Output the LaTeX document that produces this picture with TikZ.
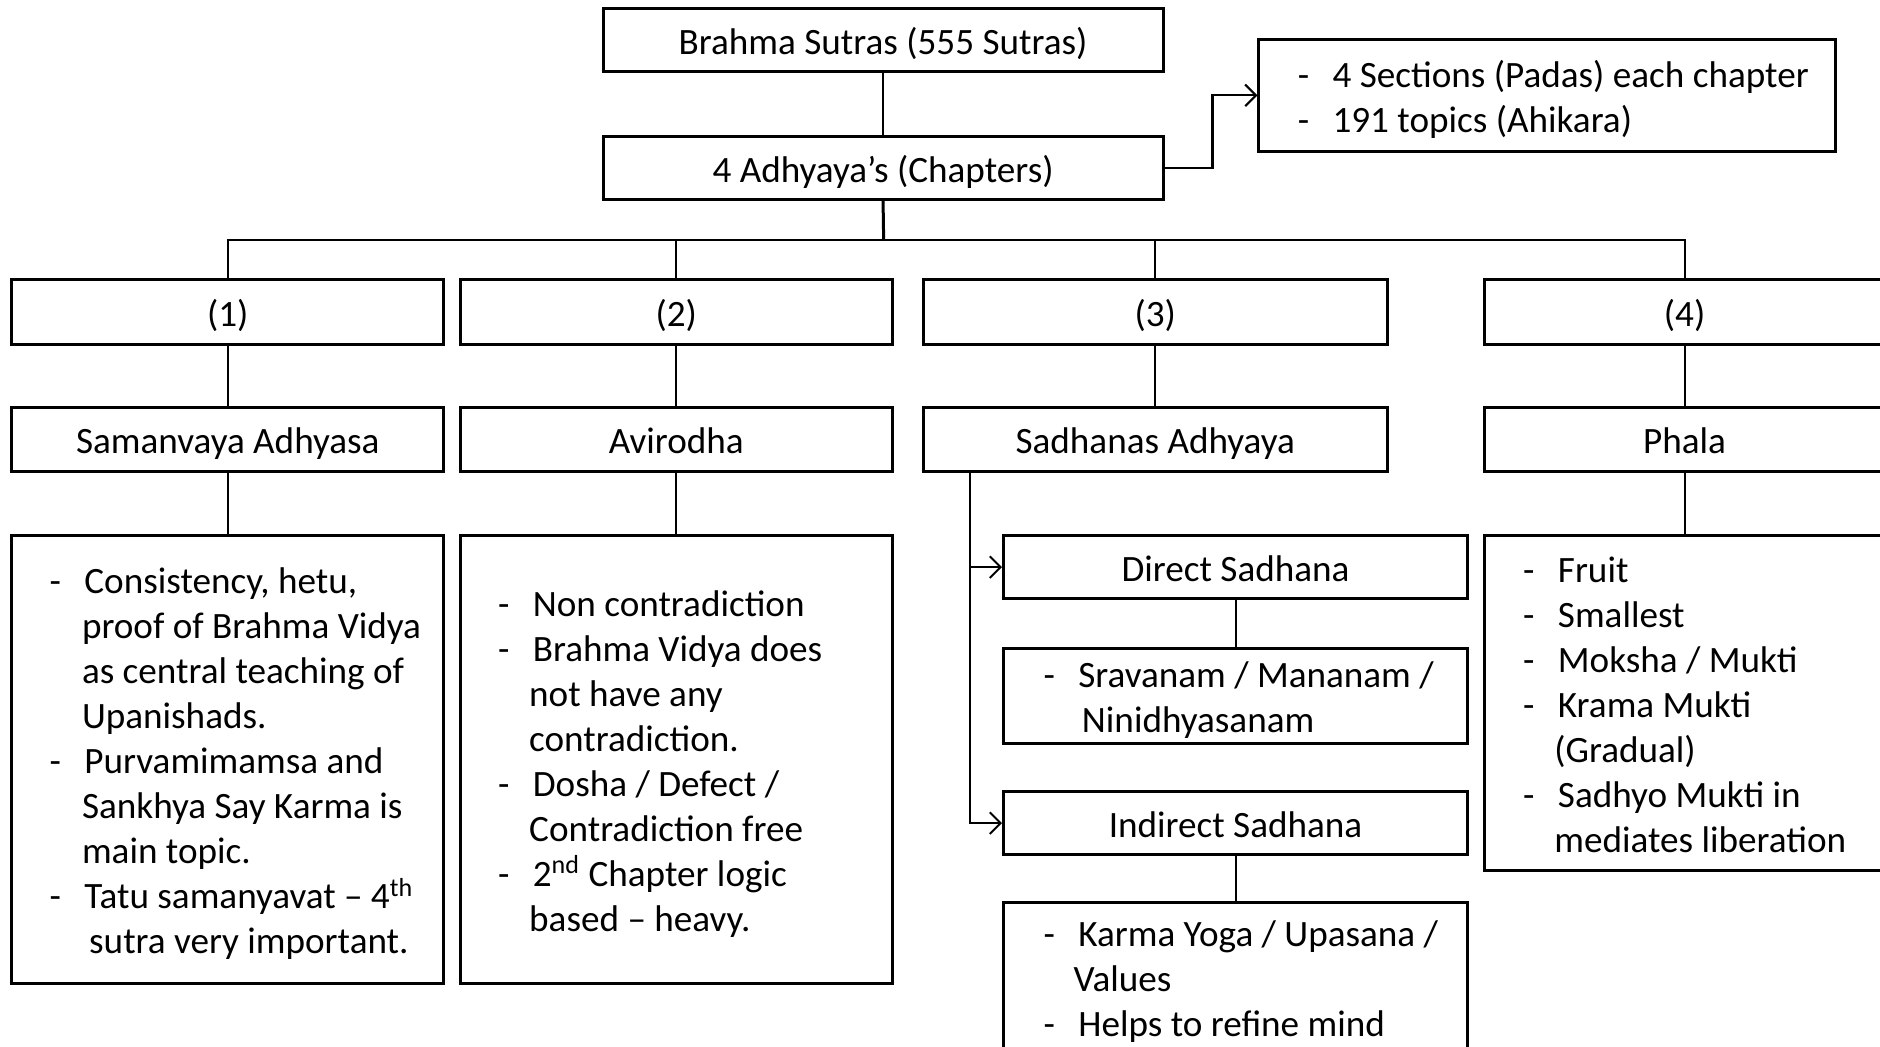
\documentclass[tikz,border=0pt]{standalone}
\usepackage{fontspec}
\setmainfont{Carlito}
\usetikzlibrary{arrows.meta,fit}

% text size used throughout the chart
\newcommand\chartfont{\fontsize{15.5pt}{18.75pt}\selectfont}
% bullet line with a hanging dash, and its continuation lines
\newcommand\bul[1]{\strut\makebox[14.5pt][l]{-}#1}
\newcommand\cnt[2][13.5pt]{\strut\hspace*{#1}#2}

\tikzset{
  box/.style={draw, line width=1.25pt, inner sep=0pt},
  title/.style={label={[font=\chartfont, inner sep=0pt, yshift=-2.2pt]center:\strut#1}},
  link/.style={line width=0.85pt},
  trunk/.style={line width=1.25pt},
  arr/.style={line width=0.85pt, -{Straight Barb[length=4.5pt,width=9pt,line width=0.85pt]}},
  txt/.style={anchor=west, inner sep=0pt, align=left, font=\chartfont, yshift=-2.2pt},
}

\begin{document}
\begin{tikzpicture}[x=0.5pt, y=-0.5pt]
\clip (0,0) rectangle (1568,873);

% top of the hierarchy
\node[box, fit={(503,7)(970,60)}, title={Brahma Sutras (555 Sutras)}] (root) {};
\node[box, fit={(503,114)(970,166)}, title={4 Adhyaya’s (Chapters)}] (adh) {};
\node[box, fit={(1050,33)(1531,126)}] (sec) {};
\node[txt] (sectxt) at (1082,79.5) {\bul{4 Sections (Padas) each chapter}\\
  \bul{191 topics (Ahikara)}};

% chapter numbers
\node[box, fit={(10,233)(370,287)}, title={(1)}] (c1) {};
\node[box, fit={(384,233)(744,287)}, title={(2)}] (c2) {};
\node[box, fit={(770,233)(1157,287)}, title={(3)}] (c3) {};
\node[box, fit={(1238,233)(1572,287)}, title={(4)}] (c4) {};

% chapter names
\node[box, fit={(10,340)(370,393)}, title={Samanvaya Adhyasa}] (n1) {};
\node[box, fit={(384,340)(744,393)}, title={Avirodha}] (n2) {};
\node[box, fit={(770,340)(1157,393)}, title={Sadhanas Adhyaya}] (n3) {};
\node[box, fit={(1238,340)(1572,393)}, title={Phala}] (n4) {};

% chapter 1 details
\node[box, fit={(10,447)(370,820)}] (d1) {};
\node[txt] (d1txt) at (41,633.5) {\bul{Consistency, hetu,}\\
  \cnt{proof of Brahma Vidya}\\
  \cnt{as central teaching of}\\
  \cnt{Upanishads.}\\
  \bul{Purvamimamsa and}\\
  \cnt{Sankhya Say Karma is}\\
  \cnt{main topic.}\\
  \bul{Tatu samanyavat – 4\textsuperscript{th}}\\
  \cnt[16.5pt]{sutra very important.}};

% chapter 2 details
\node[box, fit={(384,447)(744,820)}] (d2) {};
\node[txt] (d2txt) at (415,633.5) {\bul{Non contradiction}\\
  \bul{Brahma Vidya does}\\
  \cnt[13pt]{not have any}\\
  \cnt[13pt]{contradiction.}\\
  \bul{Dosha / Defect /}\\
  \cnt[13pt]{Contradiction free}\\
  \bul{2\textsuperscript{nd} Chapter logic}\\
  \cnt[13pt]{based – heavy.}};

% chapter 3 details
\node[box, fit={(837,447)(1224,499)}, title={Direct Sadhana}] (direct) {};
\node[box, fit={(837,541)(1224,620)}] (srav) {};
\node[txt] (sravtxt) at (870,580.5) {\bul{Sravanam / Mananam /}\\
  \cnt[16pt]{Ninidhyasanam}};
\node[box, fit={(837,660)(1224,713)}, title={Indirect Sadhana}] (indirect) {};
\node[box, fit={(837,753)(1224,877)}] (karma) {};
\node[txt] (karmatxt) at (870,815) {\bul{Karma Yoga / Upasana /}\\
  \cnt[12.5pt]{Values}\\
  \bul{Helps to refine mind}};

% chapter 4 details
\node[box, fit={(1238,447)(1572,726)}] (d4) {};
\node[txt] (d4txt) at (1270,586.5) {\bul{Fruit}\\
  \bul{Smallest}\\
  \bul{Moksha / Mukti}\\
  \bul{Krama Mukti}\\
  \cnt[13pt]{(Gradual)}\\
  \bul{Sadhyo Mukti in}\\
  \cnt[13pt]{mediates liberation}};

% connectors
\coordinate (bus) at (737,200);
\draw[link] (root) -- (adh);
\draw[arr] (adh.east) -- ++(20pt,0) |- (sec.west);
\draw[trunk] (adh.south) -- (bus);
\draw[link] (c1.north) |- (bus) -| (c4.north);
\draw[link] (c2.north) -- (c2.north |- bus);
\draw[link] (c3.north) -- (c3.north |- bus);

\draw[link] (c1) -- (n1);
\draw[link] (c2) -- (n2);
\draw[link] (c3) -- (n3);
\draw[link] (c4) -- (n4);

\draw[link] (n1) -- (d1);
\draw[link] (n2) -- (d2);
\draw[link] (n4) -- (d4);

\coordinate (spine) at ([xshift=20pt]n3.south west);
\draw[arr] (spine) |- (direct.west);
\draw[arr] (spine) |- (indirect.west);
\draw[link] (direct) -- (srav);
\draw[link] (indirect) -- (karma);
\end{tikzpicture}
\end{document}
